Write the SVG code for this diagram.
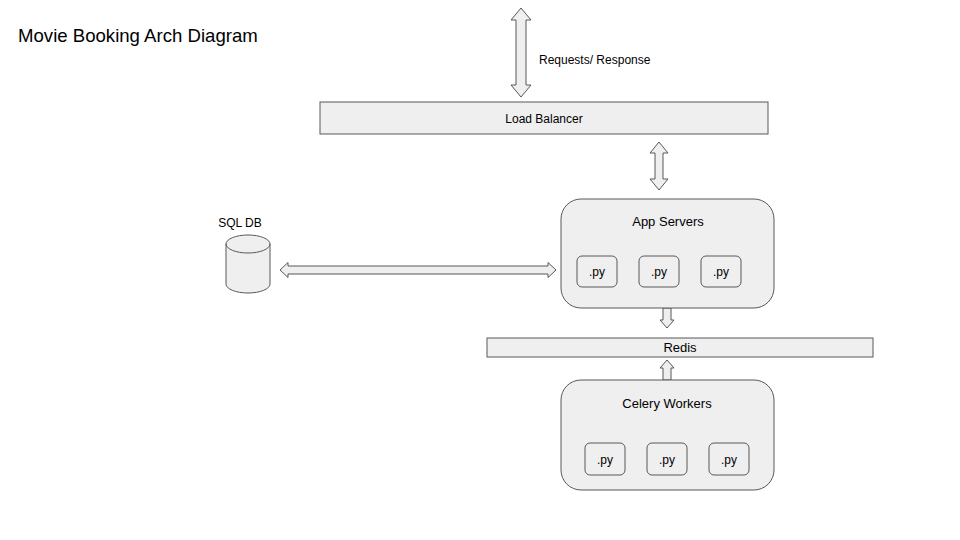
<svg xmlns="http://www.w3.org/2000/svg" width="960" height="540" viewBox="0 0 960 540">
<style>
.box{fill:#efefef;stroke:#595959;stroke-width:1}
.arr{fill:#efefef;stroke:#595959;stroke-width:1;stroke-linejoin:miter}
text{font-family:"Liberation Sans",Arial,sans-serif;fill:#000}
.s{font-size:12px}
.m{font-size:13px}
</style>
<rect width="960" height="540" fill="#fff"/>
<text x="18" y="42" style="font-size:18.6px">Movie Booking Arch Diagram</text>
<g id="connectors">
<path class="arr" d="M521,8 L531,20 L526,20 L526,85 L531,85 L521,97 L511,85 L516,85 L516,20 L511,20 Z"/>
<path class="arr" d="M659,142 L668,153 L663,153 L663,179 L668,179 L659,190 L650,179 L655,179 L655,153 L650,153 Z"/>
<path class="arr" d="M280,270 L288,262.5 L288,266 L548,266 L548,262.5 L556,270 L548,277.5 L548,274 L288,274 L288,277.5 Z"/>
<path class="arr" d="M663,308 L671,308 L671,320 L674,320 L667,328 L660,320 L663,320 Z"/>
<path class="arr" d="M667,360 L674,368 L671,368 L671,380 L663,380 L663,368 L660,368 Z"/>
<text x="539" y="64" class="s">Requests/ Response</text>
</g>
<g id="load-balancer">
<rect class="box" x="320" y="102" width="448" height="32"/>
<text x="544" y="123" class="s" text-anchor="middle">Load Balancer</text>
</g>
<g id="app-servers">
<rect class="box" x="561" y="199" width="213" height="109" rx="20"/>
<text x="668" y="226" class="m" text-anchor="middle">App Servers</text>
<rect class="box" x="577" y="256" width="40" height="31" rx="5"/>
<text x="597" y="276" class="s" text-anchor="middle">.py</text>
<rect class="box" x="639" y="256" width="40" height="31" rx="5"/>
<text x="659" y="276" class="s" text-anchor="middle">.py</text>
<rect class="box" x="701" y="256" width="40" height="31" rx="5"/>
<text x="721" y="276" class="s" text-anchor="middle">.py</text>
</g>
<g id="sql-db">
<path class="box" d="M226,244 A22,9 0 0 1 270,244 L270,284 A22,9 0 0 1 226,284 Z"/>
<path d="M226,244 A22,9 0 0 0 270,244" fill="none" stroke="#595959"/>
<text x="240" y="227" class="s" text-anchor="middle">SQL DB</text>
</g>
<g id="redis">
<rect class="box" x="487" y="338" width="386" height="19"/>
<text x="680" y="352" class="m" text-anchor="middle">Redis</text>
</g>
<g id="celery-workers">
<rect class="box" x="561" y="380" width="213" height="110" rx="20"/>
<text x="667" y="408" class="m" text-anchor="middle">Celery Workers</text>
<rect class="box" x="585" y="443" width="40" height="32" rx="5"/>
<text x="605" y="464" class="s" text-anchor="middle">.py</text>
<rect class="box" x="647" y="443" width="40" height="32" rx="5"/>
<text x="667" y="464" class="s" text-anchor="middle">.py</text>
<rect class="box" x="709" y="443" width="40" height="32" rx="5"/>
<text x="729" y="464" class="s" text-anchor="middle">.py</text>
</g>
</svg>
